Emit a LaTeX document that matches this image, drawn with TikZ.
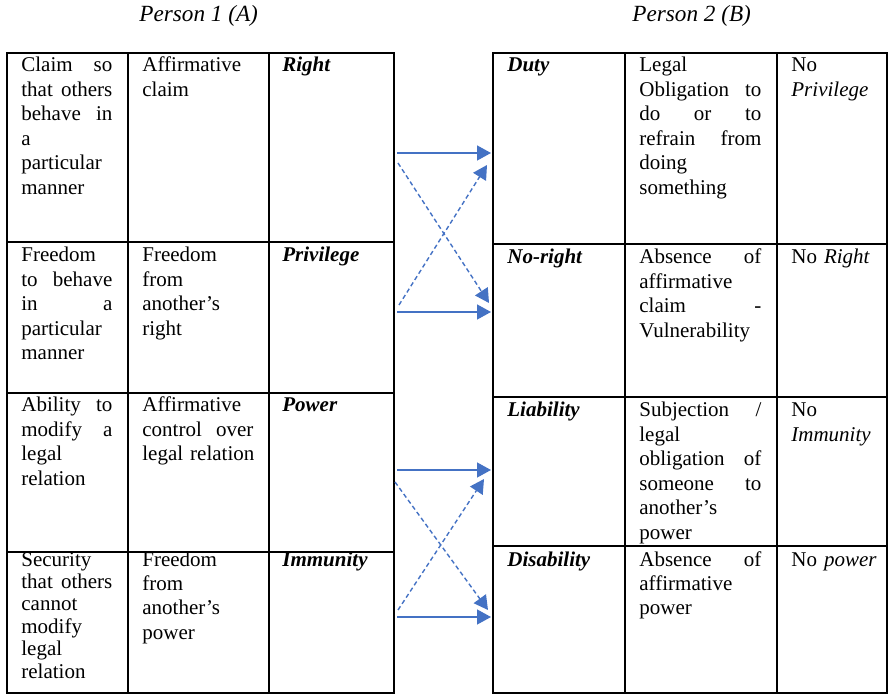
\documentclass[tikz,border=0pt]{standalone}
\usepackage{fontspec}
\setmainfont{Liberation Serif}
\usepackage{xcolor}
\definecolor{arrblue}{RGB}{68,114,196}
\usetikzlibrary{arrows.meta}
\newcommand{\hterm}[1]{\textbf{\textit{#1}}}
\tikzset{
tabrule/.style={line width=1pt},
celltext/.style={anchor=base west,inner sep=0pt,align=left,font=\fontsize{10.5}{12.25}\selectfont},
colA/.style={celltext,text width=45.5pt},
colB/.style={celltext,text width=55.5pt},
colC/.style={celltext,text width=50pt},
colD/.style={celltext,text width=54pt},
colE/.style={celltext,text width=61pt},
colF/.style={celltext,text width=46pt},
person/.style={anchor=base west,inner sep=0pt,font=\fontsize{11.6}{14}\selectfont\itshape},
link/.style={arrblue,line width=0.7pt,-{Triangle[length=7pt,width=7.5pt]}},
crosslink/.style={link,dash pattern=on 2.2pt off 1.5pt},
}

\begin{document}
\begin{tikzpicture}[x=0.5pt,y=-0.5pt]
\useasboundingbox (0,0) rectangle (888,694);
\node[person] (pA) at (139,22) {Person 1 (A)};
\node[person] (pB) at (632,22) {Person 2 (B)};
\draw[tabrule] (7,53) rectangle (394,693);
\draw[tabrule] (127.5,53) -- (127.5,693);
\draw[tabrule] (269,53) -- (269,693);
\draw[tabrule] (7,242) -- (394,242);
\draw[tabrule] (7,393) -- (394,393);
\draw[tabrule] (7,552) -- (394,552);
\draw[tabrule] (493,53) rectangle (887,693);
\draw[tabrule] (625,53) -- (625,693);
\draw[tabrule] (777,53) -- (777,693);
\draw[tabrule] (493,244) -- (887,244);
\draw[tabrule] (493,397) -- (887,397);
\draw[tabrule] (493,546) -- (887,546);
\node[colA] (a11) at (21,72) {Claim \hfill so\\that \hfill others\\behave \hfill in\\a\\particular\\manner};
\node[colB] (a12) at (142,72) {Affirmative\\claim};
\node[colC] (a13) at (282,72) {\hterm{Right}};
\node[colA] (a21) at (21,262) {Freedom\\to \hfill behave\\in \hfill a\\particular\\manner};
\node[colB] (a22) at (142,262) {Freedom\\from\\another’s\\right};
\node[colC] (a23) at (282,262) {\hterm{Privilege}};
\node[colA] (a31) at (21,412) {Ability \hfill to\\modify \hfill a\\legal\\relation};
\node[colB] (a32) at (142,412) {Affirmative\\control \hfill over\\\mbox{legal relation}};
\node[colC] (a33) at (282,412) {\hterm{Power}};
\node[colA,font=\fontsize{10.5}{11.2}\selectfont] (a41) at (21,566) {Security\\that \hfill others\\cannot\\modify\\legal\\relation};
\node[colB] (a42) at (142,566) {Freedom\\from\\another’s\\power};
\node[colC] (a43) at (282,566) {\hterm{Immunity}};
\node[colD] (b11) at (507,72) {\hterm{Duty}};
\node[colE] (b12) at (639,72) {Legal\\Obligation \hfill to\\do \hfill or \hfill to\\refrain \hfill from\\doing\\something};
\node[colF] (b13) at (791,72) {No\\\textit{Privilege}};
\node[colD] (b21) at (507,264) {\hterm{No-right}};
\node[colE] (b22) at (639,264) {Absence \hfill of\\affirmative\\claim \hfill -\\Vulnerability};
\node[colF] (b23) at (791,264) {No \textit{Right}};
\node[colD] (b31) at (507,417) {\hterm{Liability}};
\node[colE] (b32) at (639,417) {Subjection \hfill /\\legal\\obligation \hfill of\\someone \hfill to\\another’s\\power};
\node[colF] (b33) at (791,417) {No\\\textit{Immunity}};
\node[colD] (b41) at (507,566) {\hterm{Disability}};
\node[colE] (b42) at (639,566) {Absence \hfill of\\affirmative\\power};
\node[colF] (b43) at (791,566) {No \textit{power}};
\coordinate (s1) at (397,153);
\coordinate (t1) at (491,153);
\coordinate (s2) at (398,163);
\coordinate (t2) at (489,303);
\coordinate (s3) at (399,305);
\coordinate (t3) at (487,165);
\coordinate (s4) at (397,312);
\coordinate (t4) at (491,312);
\coordinate (s5) at (397,470);
\coordinate (t5) at (491,470);
\coordinate (s6) at (395,482);
\coordinate (t6) at (488,610);
\coordinate (s7) at (398,610);
\coordinate (t7) at (484,479);
\coordinate (s8) at (397,617);
\coordinate (t8) at (491,617);
\draw[link] (s1) -- (t1);
\draw[crosslink] (s2) -- (t2);
\draw[crosslink] (s3) -- (t3);
\draw[link] (s4) -- (t4);
\draw[link] (s5) -- (t5);
\draw[crosslink] (s6) -- (t6);
\draw[crosslink] (s7) -- (t7);
\draw[link] (s8) -- (t8);
\end{tikzpicture}
\end{document}
